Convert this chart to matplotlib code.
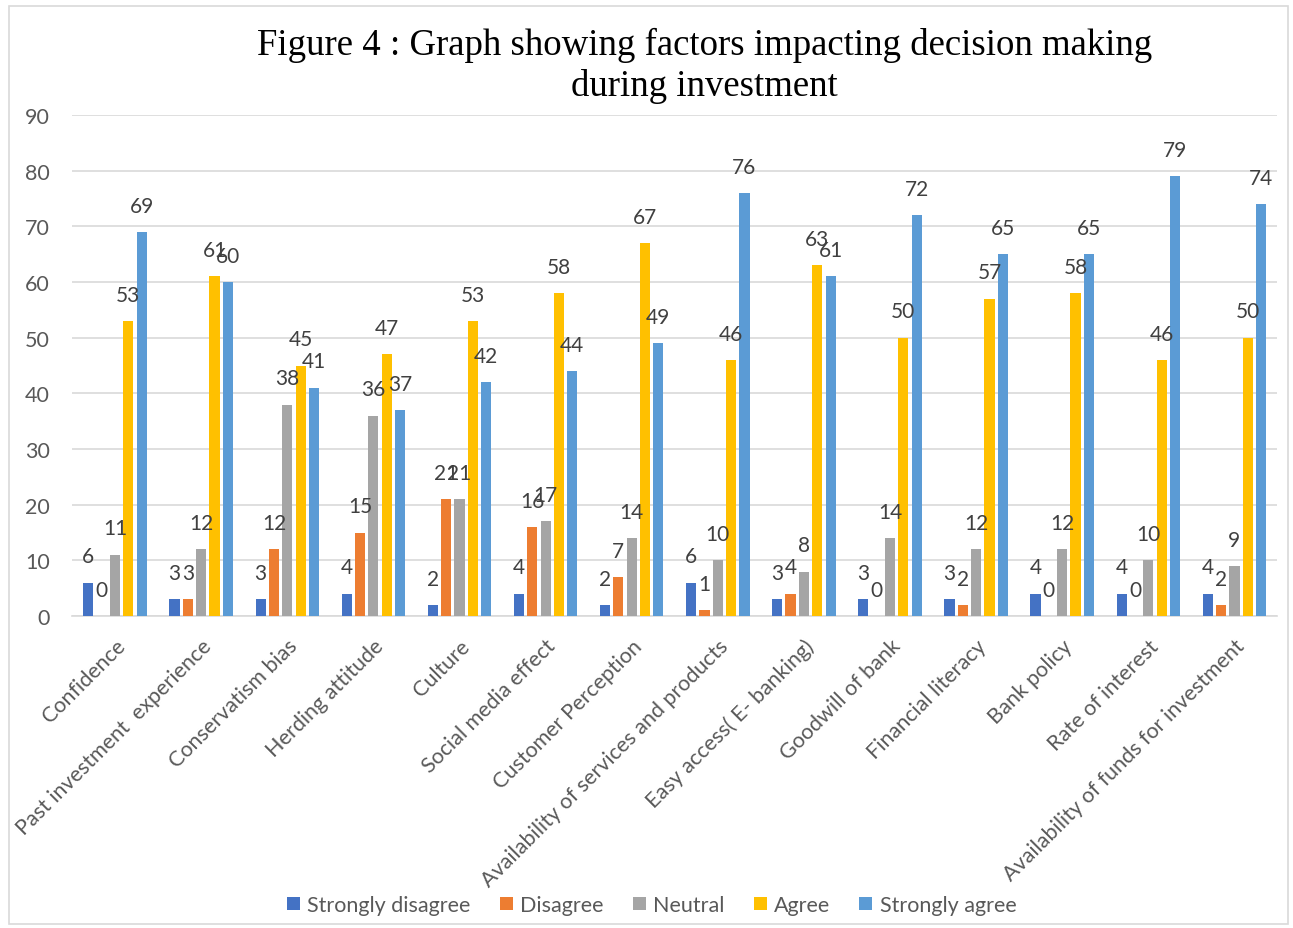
import numpy as np
import matplotlib
matplotlib.use('Agg')
import matplotlib.pyplot as plt
from matplotlib.patches import Rectangle

categories = ['Confidence', 'Past investment  experience', 'Conservatism bias',
              'Herding attitude', 'Culture', 'Social media effect',
              'Customer Perception', 'Availability of services and products',
              'Easy access( E- banking)', 'Goodwill of bank', 'Financial literacy',
              'Bank policy', 'Rate of interest', 'Availability of funds for investment']
series_names = ['Strongly disagree', 'Disagree', 'Neutral', 'Agree', 'Strongly agree']
strongly_disagree = [6, 3, 3, 4, 2, 4, 2, 6, 3, 3, 3, 4, 4, 4]
disagree = [0, 3, 12, 15, 21, 16, 7, 1, 4, 0, 2, 0, 0, 2]
neutral = [11, 12, 38, 36, 21, 17, 14, 10, 8, 14, 12, 12, 10, 9]
agree = [53, 61, 45, 47, 53, 58, 67, 46, 63, 50, 57, 58, 46, 50]
strongly_agree = [69, 60, 41, 37, 42, 44, 49, 76, 61, 72, 65, 65, 79, 74]
yticks = [0, 10, 20, 30, 40, 50, 60, 70, 80, 90]

colors = ['#4472C4', '#ED7D31', '#A5A5A5', '#FFC000', '#5B9BD5']
text_col = '#595959'
font = ['Lato', 'DejaVu Sans']

fig = plt.figure(figsize=(12.93, 9.29), dpi=100)
ax = fig.add_axes([0.0557, 0.3358, 0.9323, 0.5393])

x = np.arange(len(categories))
all_series = [strongly_disagree, disagree, neutral, agree, strongly_agree]
width = 0.118
step = 0.155
for i, (vals, name, c) in enumerate(zip(all_series, series_names, colors)):
    pos = x + (i - 2) * step
    ax.bar(pos, vals, width=width, color=c, label=name, zorder=3)
    for px, v in zip(pos, vals):
        ax.annotate(str(v), (px, v), xytext=(0, 19), textcoords='offset points',
                    ha='center', va='center', fontsize=15, color='#404040',
                    family=font, zorder=4)

ax.set_xlim(-0.5, len(categories) - 0.5)
ax.set_ylim(0, 90)
ax.set_yticks(yticks)
ax.yaxis.grid(True, color='#D9D9D9', linewidth=1.2, zorder=0)
ax.set_axisbelow(True)
for s in ['top', 'right', 'left']:
    ax.spines[s].set_visible(False)
ax.spines['bottom'].set_color('#D9D9D9')
ax.spines['bottom'].set_linewidth(1.2)
ax.tick_params(axis='both', length=0, colors=text_col, labelsize=15.5)
ax.tick_params(axis='y', pad=16)
ax.tick_params(axis='x', pad=14)
ax.set_xticks(x)
ax.set_xticklabels(categories, rotation=45, ha='right', rotation_mode='anchor',
                   family=font)
for lbl in ax.get_yticklabels():
    lbl.set_family(font)

# title, two centred lines
fig.text(0.545, 0.9516, 'Figure 4 : Graph showing factors impacting decision making',
         ha='center', va='center', fontsize=26.5, family='Liberation Serif')
fig.text(0.545, 0.9064, 'during investment',
         ha='center', va='center', fontsize=26.5, family='Liberation Serif')

leg = fig.legend(loc='lower center', bbox_to_anchor=(0.504, -0.007), ncol=5, frameon=False,
                 prop={'family': font, 'size': 15.5}, handlelength=0.6, handleheight=0.6,
                 handletextpad=0.35, columnspacing=1.35, labelcolor=text_col)

fig.patches.append(Rectangle((0.007, 0.004), 0.989, 0.988, transform=fig.transFigure,
                             fill=False, edgecolor='#D9D9D9', linewidth=1.2))

fig.savefig('out.png', dpi=100)
